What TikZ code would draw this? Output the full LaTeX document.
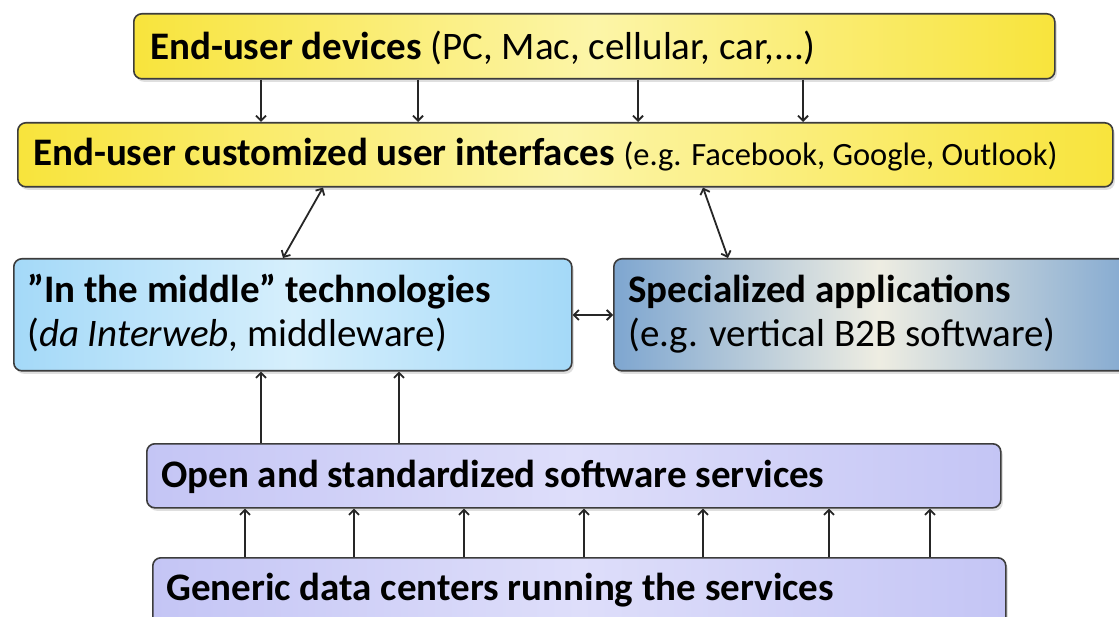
\documentclass[tikz,border=0pt]{standalone}
\usepackage{fontspec}
\setmainfont{Carlito}
\usetikzlibrary{arrows.meta,shadows}
\definecolor{boxline}{HTML}{3C3C3C}
\definecolor{yedge}{HTML}{F8E43C}
\definecolor{ymid}{HTML}{FCF5A8}
\definecolor{bedge}{HTML}{A4D9F8}
\definecolor{bmid}{HTML}{D6EFFC}
\definecolor{sedge}{HTML}{7EA6D0}
\definecolor{smid}{HTML}{EEEDE2}
\definecolor{pedge}{HTML}{C4C5F5}
\definecolor{pmid}{HTML}{DEDEFA}
\tikzset{
  box/.style={draw=boxline, line width=1.6pt, rounded corners=8pt, anchor=north west,
    inner sep=0pt, drop shadow={shadow xshift=2pt, shadow yshift=-3pt, opacity=0.25}},
  yellowbox/.style={left color=yedge, right color=yedge, middle color=ymid},
  bluebox/.style={left color=bedge, right color=bedge, middle color=bmid},
  specbox/.style={left color=sedge, right color=sedge, middle color=smid},
  lilacbox/.style={left color=pedge, right color=pedge, middle color=pmid},
  txt/.style={anchor=base west, inner sep=0pt, font=\fontsize{39}{44}\selectfont},
  arr/.style={line width=1.8pt, draw=black!85, -{Straight Barb[length=5pt,width=10pt]}},
  darr/.style={line width=1.8pt, draw=black!85, {Straight Barb[length=5pt,width=10pt]}-{Straight Barb[length=5pt,width=10pt]}}
}
\begin{document}
\begin{tikzpicture}[x=1pt,y=-1pt]
\useasboundingbox (0,0) rectangle (1119,617);
\clip (0,0) rectangle (1119,617);
\fill[white] (0,0) rectangle (1119,617);
% boxes
\node[box, yellowbox, minimum width=921pt, minimum height=65pt] (dev) at (133,13) {};
\node[box, yellowbox, minimum width=1095pt, minimum height=64pt] (ui) at (17,122) {};
\node[box, bluebox, minimum width=558pt, minimum height=112pt] (mid) at (13,258) {};
\node[box, specbox, minimum width=530pt, minimum height=112pt] (spec) at (613,258) {};
\node[box, lilacbox, minimum width=854pt, minimum height=64pt] (open) at (146,443) {};
\node[box, lilacbox, minimum width=853pt, minimum height=90pt] (gen) at (152,557) {};
% texts
\node[txt] (devt) at (150,60) {\textbf{End-user devices} (PC, Mac, cellular, car,...)};
\node[txt] (uit) at (33,166) {\textbf{End-user customized user interfaces} {\fontsize{32.5}{38}\selectfont(e.g. Facebook, Google, Outlook)}};
\node[txt] (midt1) at (27,303) {\textbf{”In the middle” technologies}};
\node[txt] (midt2) at (27,347) {(\textit{da Interweb}, middleware)};
\node[txt] (spect1) at (628,303) {\textbf{Specialized applications}};
\node[txt] (spect2) at (628,347) {(e.g. vertical B2B software)};
\node[txt] (opent) at (161,487) {\textbf{Open and standardized software services}};
\node[txt] (gent) at (166,600) {\textbf{Generic data centers running the services}};
% connectors
\foreach \x in {261,418,638,803}
  \draw[arr] (\x,0 |- dev.south) -- (\x,0 |- ui.north);
\draw[darr] (323,0 |- ui.south) -- (283,0 |- mid.north);
\draw[darr] (703,0 |- ui.south) -- (728,0 |- spec.north);
\draw[darr] (mid.east |- 0,315) -- (spec.west |- 0,315);
\foreach \x in {261,399}
  \draw[arr] (\x,0 |- open.north) -- (\x,0 |- mid.south);
\foreach \x in {245,354,464,584,703,829,930}
  \draw[arr] (\x,0 |- gen.north) -- (\x,0 |- open.south);
\end{tikzpicture}
\end{document}
